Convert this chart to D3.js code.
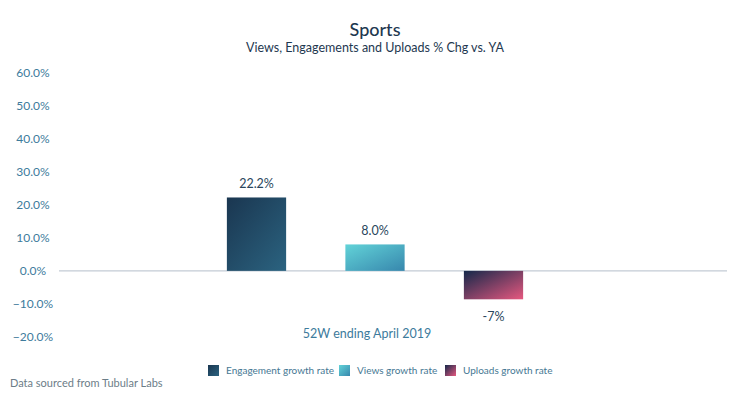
<!DOCTYPE html>
<html>
<head>
<meta charset="utf-8">
<script src="https://cdn.jsdelivr.net/npm/d3@7"></script>
<style>
  body { margin: 0; background: #fff; }
  svg { font-family: Lato, "Open Sans", sans-serif; }
</style>
</head>
<body>
<script>
// datos
const period = "52W ending April 2019";
const series = ["Engagement growth rate", "Views growth rate", "Uploads growth rate"];
const values = [22.2, 8.0, -8.6];
const barLabels = ["22.2%", "8.0%", "-7%"];
const yTicks = [-20, -10, 0, 10, 20, 30, 40, 50, 60];

const width = 750, height = 393;

const svg = d3.select("body").append("svg")
    .attr("width", width)
    .attr("height", height);

// gradientes de las barras
const grads = [
    ["#1a3650", "#2b6380"],
    ["#62d3d8", "#3787ad"],
    ["#14284a", "#e6587f"]
];
const defs = svg.append("defs");
grads.forEach((g, i) => {
    const lg = defs.append("linearGradient")
        .attr("id", "g" + i)
        .attr("x1", "0%").attr("y1", "0%")
        .attr("x2", "100%").attr("y2", "100%");
    lg.append("stop").attr("offset", "0%").attr("stop-color", g[0]);
    lg.append("stop").attr("offset", "100%").attr("stop-color", g[1]);
});

// escalas
const y = d3.scaleLinear().domain([-20, 60]).range([337, 72.5]);
const x0 = d3.scaleBand().domain([period]).range([22, 728]);
const cx = x0(period) + x0.bandwidth() / 2;
const x1 = d3.scaleBand().domain(series)
    .range([cx - 177.75, cx + 177.75])
    .paddingInner(0.5).paddingOuter(0.25);

// títulos
svg.append("text")
    .attr("x", width / 2).attr("y", 36)
    .attr("text-anchor", "middle")
    .attr("fill", "#1e3850")
    .style("font-size", "18px")
    .style("font-weight", "500")
    .text("Sports");

svg.append("text")
    .attr("x", width / 2).attr("y", 52)
    .attr("text-anchor", "middle")
    .attr("fill", "#1e3850")
    .style("font-size", "12.5px")
    .text("Views, Engagements and Uploads % Chg vs. YA");

// eje Y
svg.append("g")
    .selectAll("text")
    .data(yTicks)
    .join("text")
    .attr("x", 33)
    .attr("y", d => y(d))
    .attr("dy", "0.35em")
    .attr("text-anchor", "middle")
    .attr("fill", "#3d7b9c")
    .style("font-size", "12px")
    .text(d => d3.format(".1f")(d) + "%");

// línea cero
svg.append("line")
    .attr("x1", 59).attr("x2", 727)
    .attr("y1", y(0)).attr("y2", y(0))
    .attr("stroke", "#c3cbd5")
    .attr("stroke-width", 1.3);

// barras
svg.append("g")
    .selectAll("rect")
    .data(values)
    .join("rect")
    .attr("x", (d, i) => x1(series[i]))
    .attr("width", x1.bandwidth())
    .attr("y", d => y(Math.max(0, d)))
    .attr("height", d => Math.abs(y(d) - y(0)))
    .attr("fill", (d, i) => `url(#g${i})`);

// etiquetas de valores
svg.append("g")
    .selectAll("text")
    .data(values)
    .join("text")
    .attr("x", (d, i) => x1(series[i]) + x1.bandwidth() / 2)
    .attr("y", d => d >= 0 ? y(d) - 9 : y(d) + 22)
    .attr("text-anchor", "middle")
    .attr("fill", "#2a465c")
    .style("font-size", "12.5px")
    .text((d, i) => barLabels[i]);

// categoría
svg.append("text")
    .attr("x", 367).attr("y", 338)
    .attr("text-anchor", "middle")
    .attr("fill", "#3d7b9c")
    .style("font-size", "12.5px")
    .text(period);

// leyenda
const legendX = [208, 339, 445];
const legend = svg.append("g")
    .selectAll("g")
    .data(series)
    .join("g")
    .attr("transform", (d, i) => `translate(${legendX[i]},365)`);

legend.append("rect")
    .attr("width", 11).attr("height", 11)
    .attr("fill", (d, i) => `url(#g${i})`);

legend.append("text")
    .attr("x", 18).attr("y", 9)
    .attr("fill", "#467893")
    .style("font-size", "10px")
    .text(d => d);

// fuente
svg.append("text")
    .attr("x", 10).attr("y", 387)
    .attr("fill", "#6c7d88")
    .style("font-size", "11px")
    .text("Data sourced from Tubular Labs");
</script>
</body>
</html>
